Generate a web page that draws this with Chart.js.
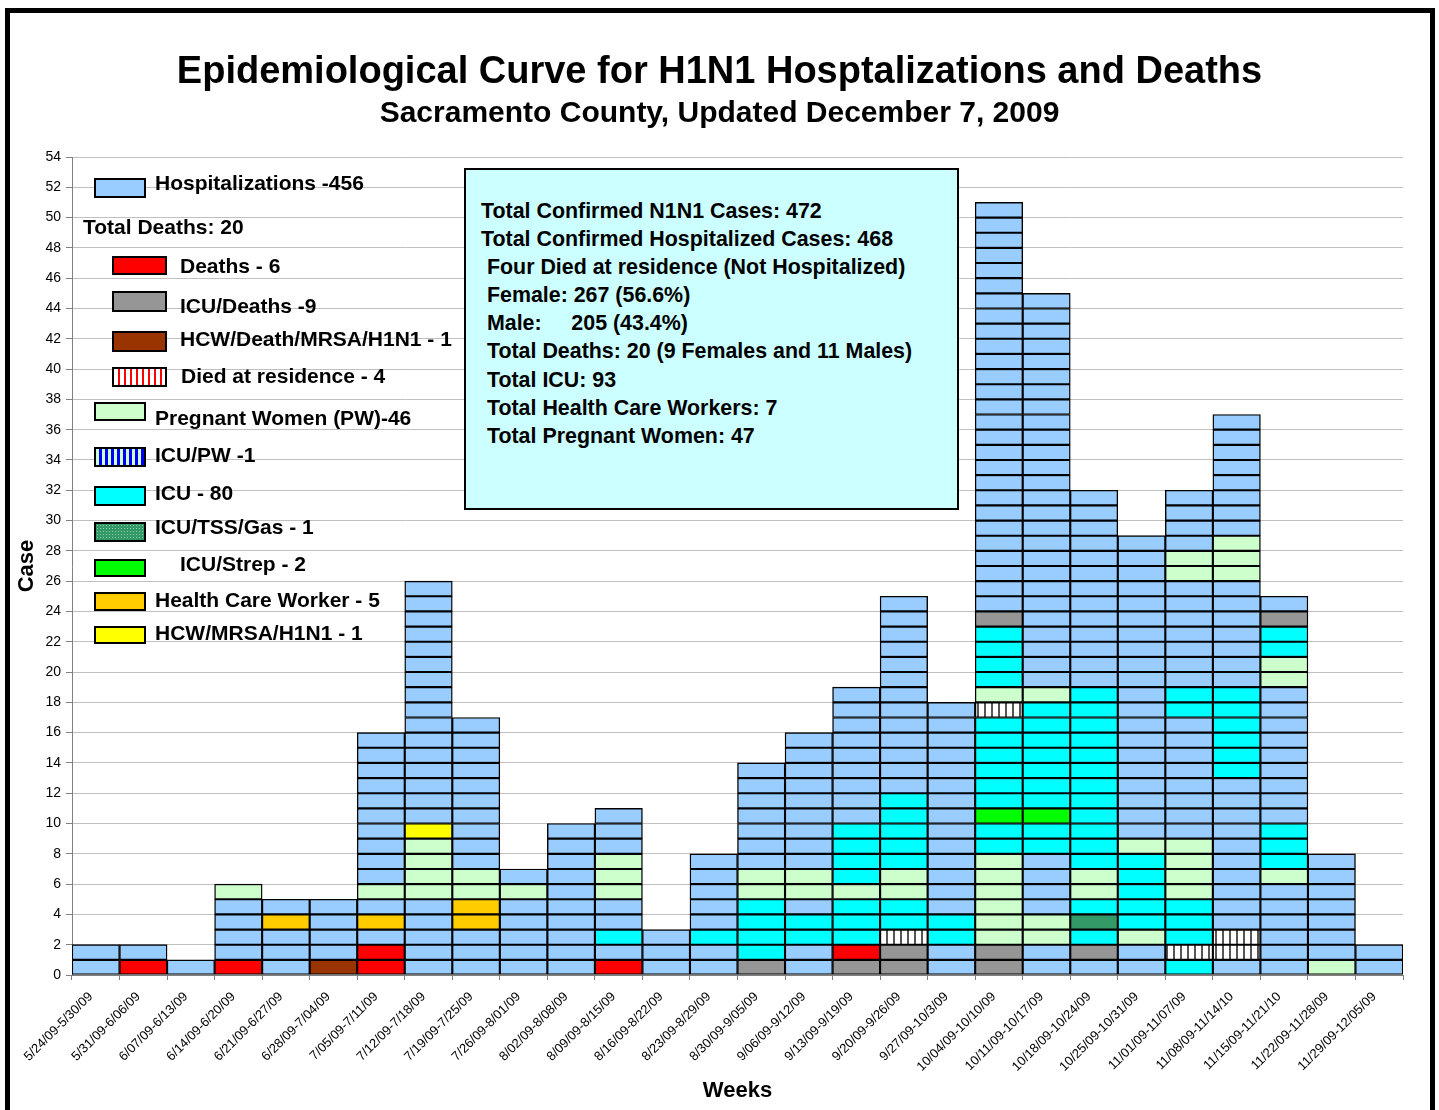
<!DOCTYPE html>
<html><head><meta charset="utf-8">
<script src="https://cdn.jsdelivr.net/npm/chart.js@4.4.1/dist/chart.umd.min.js"></script>
<style>
html,body{margin:0;padding:0;background:#fff;}
#wrap{position:relative;width:1439px;height:1110px;overflow:hidden;font-family:"Liberation Sans",Arial,sans-serif;}
#c{position:absolute;left:0;top:0;}
#frame{position:absolute;left:5px;top:8px;width:1420px;height:1200px;border:5px solid #000;pointer-events:none;}
.lg{position:absolute;font-weight:bold;font-size:21px;line-height:24px;height:24px;white-space:pre;color:#000;}
.sw{position:absolute;box-sizing:border-box;border:2px solid #000;}
#info{position:absolute;left:464px;top:168px;width:495px;height:342px;box-sizing:border-box;border:2px solid #000;background:#CCFFFF;padding:27px 0 0 15px;font-weight:bold;font-size:21.4px;line-height:28.1px;color:#000;white-space:pre;}
</style>
</head><body>
<div id="wrap">
  <canvas id="c" width="1439" height="1110"></canvas>
  <div id="legend"></div>
  <div id="info"></div>
  <div id="frame"></div>
</div>
<script>
// ---------------- DATA ----------------
const weekLabels = [
  "5/24/09-5/30/09","5/31/09-6/06/09","6/07/09-6/13/09","6/14/09-6/20/09","6/21/09-6/27/09",
  "6/28/09-7/04/09","7/05/09-7/11/09","7/12/09-7/18/09","7/19/09-7/25/09","7/26/09-8/01/09",
  "8/02/09-8/08/09","8/09/09-8/15/09","8/16/09-8/22/09","8/23/09-8/29/09","8/30/09-9/05/09",
  "9/06/09-9/12/09","9/13/09-9/19/09","9/20/09-9/26/09","9/27/09-10/3/09","10/04/09-10/10/09",
  "10/11/09-10/17/09","10/18/09-10/24/09","10/25/09-10/31/09","11/01/09-11/07/09","11/08/09-11/14/10",
  "11/15/09-11/21/10","11/22/09-11/28/09","11/29/09-12/05/09"
];
// Composition of each weekly column, bottom to top, as runs of "category code + number of cases"
const weekStacks = [
  "H2", "D1 H1", "H1", "D1 H4 P1", "H3 O1 H1",
  "B1 H4", "D2 H1 O1 H1 P1 H10", "H5 P4 Y1 H16", "H3 O2 P2 H10", "H5 P1 H1",
  "H10", "D1 H1 C1 H2 P3 H3", "H3", "H2 C1 H5", "G1 C4 P2 H7",
  "H2 C2 H1 P2 H9", "G1 D1 C3 P1 C4 H9", "G2 R1 C2 P2 C5 H13", "H2 C2 H14",
  "G2 P6 C2 S1 C6 R1 P1 C4 G1 H27",
  "H2 P2 H4 C2 S1 C7 P1 H26", "H1 G1 C1 T1 C1 P2 C12 H13", "H2 P1 C5 P1 H20",
  "C1 R1 C3 P4 H8 C2 H7 P2 H4", "H1 R2 H10 C6 H7 P3 H8",
  "H6 P1 C3 H9 P2 C2 G1 H1", "P1 H7", "H2"
];
const categoryCodes  = ["H","D","G","B","R","P","V","C","T","S","O","Y"];
const categoryLabels = ["Hospitalizations -456","Deaths - 6","ICU/Deaths -9","HCW/Death/MRSA/H1N1 - 1",
  "Died at residence - 4","Pregnant Women (PW)-46","ICU/PW -1","ICU - 80","ICU/TSS/Gas - 1",
  "ICU/Strep - 2","Health Care Worker - 5","HCW/MRSA/H1N1 - 1"];
const deathsHeading = "Total Deaths: 20";
const summaryLines = [
  "Total Confirmed N1N1 Cases: 472",
  "Total Confirmed Hospitalized Cases: 468",
  " Four Died at residence (Not Hospitalized)",
  " Female: 267 (56.6%)",
  " Male:     205 (43.4%)",
  " Total Deaths: 20 (9 Females and 11 Males)",
  " Total ICU: 93",
  " Total Health Care Workers: 7",
  " Total Pregnant Women: 47"
];
const titleText = "Epidemiological Curve for H1N1 Hosptalizations and Deaths";
const subtitleText = "Sacramento County, Updated December 7, 2009";
const xTitle = "Weeks", yTitle = "Case";
const yMin = 0, yMax = 54, yStep = 2;

// ---------------- STYLE ----------------
const FONT = '"Liberation Sans", Arial, sans-serif';
function stripePattern(bg, fg, period, w) {
  const c = document.createElement('canvas'); c.width = period; c.height = 4;
  const x = c.getContext('2d');
  x.fillStyle = bg; x.fillRect(0, 0, period, 4);
  x.fillStyle = fg; x.fillRect(period - w - 1, 0, w, 4);
  return x.createPattern(c, 'repeat');
}
const barFill = {
  H: "#99CCFF", D: "#FF0000", G: "#969696", B: "#993300",
  R: stripePattern("#FFFFFF", "#555555", 7, 2),
  P: "#CCFFCC", V: stripePattern("#CCFFCC", "#0000FF", 6, 3),
  C: "#00FFFF", T: "#339966", S: "#00FF00", O: "#FFCC00", Y: "#FFFF00"
};
const legendFill = {
  H: "#99CCFF", D: "#FF0000", G: "#969696", B: "#993300",
  R: "repeating-linear-gradient(90deg,#fff 0 4px,#f00 4px 6px)",
  P: "#CCFFCC", V: "repeating-linear-gradient(90deg,#CCFFCC 0 3px,#0000FF 3px 6px)",
  C: "#00FFFF", T: "#339966", S: "#00FF00", O: "#FFCC00", Y: "#FFFF00"
};
// legend layout: [swatchLeft, swatchTop, swatchW, swatchH, textLeft, textCenterY]
const legendLayout = [
  [94,178,52,20,155,183],
  [112,256,55,19,180,266],
  [112,291,55,21,180,306],
  [112,331,55,21,180,339],
  [112,367,55,20,181,376],
  [94,402,52,19,155,418],
  [94,447,52,20,155,455],
  [94,486,52,20,155,493],
  [94,522,52,20,155,527],
  [94,559,52,18,180,564],
  [94,592,52,19,155,600],
  [94,626,52,18,155,633]
];
const headingLayout = [83,227];

// ---------------- BUILD ----------------
const cells = weekStacks.map(s => {
  const out = [];
  s.split(" ").forEach(tok => { const code = tok[0], n = parseInt(tok.slice(1), 10); for (let i = 0; i < n; i++) out.push(code); });
  return out;
});
const levels = Math.max(...cells.map(c => c.length));
const datasets = [];
for (let k = 0; k < levels; k++) {
  datasets.push({
    label: "level " + (k + 1),
    data: cells.map(c => c.length > k ? 1 : null),
    backgroundColor: cells.map(c => c[k] ? barFill[c[k]] : "rgba(0,0,0,0)"),
    borderColor: "#000000",
    borderWidth: 1.4,
    borderSkipped: false,
    barPercentage: 1.0,
    categoryPercentage: 1.0,
    stack: "s"
  });
}

new Chart(document.getElementById('c'), {
  type: 'bar',
  data: { labels: weekLabels, datasets },
  options: {
    responsive: false, animation: false, devicePixelRatio: 1,
    layout: { padding: { left: 36, right: 36, top: 0, bottom: 0 } },
    plugins: {
      legend: { display: false }, tooltip: { enabled: false },
      title: { display: true, text: titleText, color: '#000',
        font: { family: FONT, size: 38, weight: 'bold', lineHeight: 1.2 }, padding: { top: 50, bottom: 0 } },
      subtitle: { display: true, text: subtitleText, color: '#000',
        font: { family: FONT, size: 30, weight: 'bold', lineHeight: 1.2 }, padding: { top: 0, bottom: 25.4 } }
    },
    scales: {
      x: {
        stacked: true,
        grid: { offset: true, drawOnChartArea: false, drawTicks: true, tickLength: 5, tickColor: '#808080' },
        border: { color: '#808080', width: 1 },
        ticks: { autoSkip: false, minRotation: 45, maxRotation: 45, color: '#000', font: { family: FONT, size: 13 }, padding: 9, labelOffset: -5 },
        title: { display: true, text: xTitle, color: '#000', font: { family: FONT, size: 22, weight: 'bold', lineHeight: 1.2 }, padding: { top: 0, bottom: 6 } },
        afterFit(s) { s.height = 135; s.paddingLeft = 0; s.paddingRight = 0; }
      },
      y: {
        stacked: true, min: yMin, max: yMax,
        ticks: { stepSize: yStep, color: '#000', font: { family: FONT, size: 14 }, padding: 5 },
        grid: { color: '#c0c0c0', tickLength: 6, tickColor: '#808080' },
        border: { color: '#808080', width: 1 },
        title: { display: true, text: yTitle, color: '#000', font: { family: FONT, size: 22, weight: 'bold', lineHeight: 1.2 }, padding: { top: -22, bottom: 0 } },
        afterFit(s) { s.width = 36; }
      }
    }
  }
});

// ---------------- LEGEND & INFO BOX (HTML text) ----------------
const lg = document.getElementById('legend');
categoryCodes.forEach((code, i) => {
  const L = legendLayout[i];
  const sw = document.createElement('div');
  sw.className = 'sw';
  sw.style.cssText = `left:${L[0]}px;top:${L[1]}px;width:${L[2]}px;height:${L[3]}px;background:${legendFill[code]};`;
  if (code === 'T') { sw.style.backgroundImage = 'radial-gradient(#8fd0a8 0.7px, transparent 0.9px)'; sw.style.backgroundSize = '3px 3px'; }
  lg.appendChild(sw);
  const t = document.createElement('div');
  t.className = 'lg';
  t.style.left = L[4] + 'px'; t.style.top = (L[5] - 12) + 'px';
  t.textContent = categoryLabels[i];
  lg.appendChild(t);
});
const h = document.createElement('div');
h.className = 'lg'; h.style.left = headingLayout[0] + 'px'; h.style.top = (headingLayout[1] - 12) + 'px';
h.textContent = deathsHeading; lg.appendChild(h);
document.getElementById('info').textContent = summaryLines.join("\n");
</script>
</body></html>
